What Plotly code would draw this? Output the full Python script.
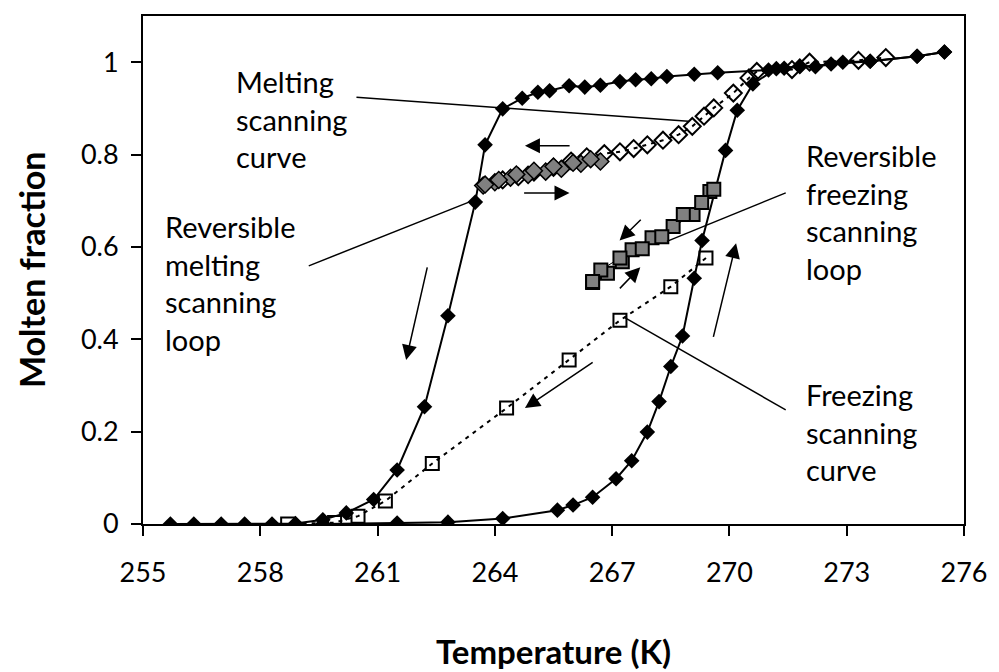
import plotly.graph_objects as go

# ---------------- data ----------------
melt_T = [255.7, 256.3, 257.0, 257.6, 258.3, 258.9, 259.6, 260.2, 260.9, 261.5, 262.2, 262.8,
          263.5, 263.75, 264.2, 264.7, 265.1, 265.4, 265.9, 266.3, 266.7, 267.2, 267.6, 268.0,
          268.4, 269.1, 269.7, 271.0, 271.4, 271.8, 272.2, 272.9, 273.6, 274.8, 275.5]
melt_F = [0, 0, 0, 0, 0, 0.001, 0.009, 0.024, 0.053, 0.117, 0.254, 0.451,
          0.697, 0.821, 0.899, 0.922, 0.935, 0.938, 0.949, 0.946, 0.950, 0.958, 0.962, 0.964,
          0.969, 0.974, 0.977, 0.983, 0.987, 0.992, 0.990, 1.0, 1.002, 1.013, 1.022]

frz_T = [275.5, 274.8, 273.6, 272.6, 271.8, 271.2, 270.6, 270.2, 269.9, 269.3, 269.1, 268.8,
         268.5, 268.2, 267.9, 267.5, 267.1, 266.5, 266.0, 265.6, 264.2, 262.8, 261.5, 259.6]
frz_F = [1.022, 1.013, 1.002, 0.996, 0.990, 0.986, 0.953, 0.896, 0.809, 0.614, 0.532, 0.407,
         0.341, 0.265, 0.199, 0.137, 0.098, 0.058, 0.041, 0.030, 0.012, 0.004, 0.002, 0.0]

msc_T = [264.2, 264.6, 265.0, 265.5, 265.95, 266.35, 266.8, 267.2, 267.55, 267.9, 268.3,
         268.7, 269.05, 269.35, 269.6, 270.1, 270.5, 270.7, 271.6, 272.05, 273.3, 274.0]
msc_F = [0.745, 0.752, 0.762, 0.772, 0.786, 0.795, 0.802, 0.806, 0.813, 0.821, 0.831,
         0.843, 0.861, 0.883, 0.901, 0.933, 0.966, 0.980, 0.984, 1.0, 1.004, 1.010]

rml_T = [263.7, 264.0, 264.4, 264.85, 265.3, 265.7, 266.2, 266.7,
         266.45, 266.0, 265.5, 265.0, 264.55, 264.1, 263.75]
rml_F = [0.733, 0.740, 0.750, 0.756, 0.763, 0.769, 0.780, 0.785,
         0.790, 0.782, 0.774, 0.765, 0.757, 0.745, 0.735]

fsc_T = [269.4, 268.5, 267.2, 265.9, 264.3, 262.4, 261.2, 260.5, 259.9, 258.7]
fsc_F = [0.576, 0.514, 0.441, 0.355, 0.251, 0.131, 0.050, 0.017, 0.003, 0.0]

rfl_T = [266.5, 266.88, 267.26, 267.51, 268.02, 268.56, 269.07, 269.5,
         269.6, 269.29, 268.82, 268.27, 267.77, 267.2, 266.71, 266.5]
rfl_F = [0.523, 0.543, 0.568, 0.594, 0.620, 0.644, 0.670, 0.720,
         0.725, 0.696, 0.670, 0.622, 0.596, 0.576, 0.550, 0.525]

x_ticks = [255, 258, 261, 264, 267, 270, 273, 276]
y_ticks = [0, 0.2, 0.4, 0.6, 0.8, 1]

# label texts and their anchor points (data coords)
labels = [
    ("Melting<br>scanning<br>curve", 257.34, 0.878),
    ("Reversible<br>melting<br>scanning<br>loop", 255.5, 0.522),
    ("Reversible<br>freezing<br>scanning<br>loop", 271.9, 0.676),
    ("Freezing<br>scanning<br>curve", 271.9, 0.199),
]
# leader lines (x0, y0, x1, y1)
leaders = [
    (260.46, 0.924, 268.95, 0.872),
    (259.24, 0.559, 263.37, 0.698),
    (271.44, 0.717, 268.40, 0.612),
    (267.30, 0.448, 271.44, 0.247),
]
# arrows (tail_x, tail_y, head_x, head_y)
arrows = [
    (265.95, 0.819, 264.77, 0.819),
    (264.71, 0.717, 265.91, 0.717),
    (262.28, 0.559, 261.73, 0.355),
    (267.77, 0.662, 267.19, 0.614),
    (267.16, 0.507, 267.72, 0.556),
    (269.58, 0.402, 270.17, 0.608),
    (266.54, 0.352, 264.77, 0.251),
]

FONT = "Lato"

fig = go.Figure()

fig.add_trace(go.Scatter(x=melt_T, y=melt_F, mode="lines+markers",
                         line=dict(color="black", width=2),
                         marker=dict(symbol="diamond", size=12, color="black")))
fig.add_trace(go.Scatter(x=frz_T, y=frz_F, mode="lines+markers",
                         line=dict(color="black", width=2),
                         marker=dict(symbol="diamond", size=12, color="black")))
fig.add_trace(go.Scatter(x=msc_T, y=msc_F, mode="lines+markers",
                         line=dict(color="black", width=2, dash="4px,5px"),
                         marker=dict(symbol="diamond-open", size=13, color="black",
                                     line=dict(width=2, color="black"))))
fig.add_trace(go.Scatter(x=rml_T, y=rml_F, mode="lines+markers",
                         line=dict(color="black", width=1),
                         marker=dict(symbol="diamond", size=13, color="#808080",
                                     line=dict(width=1.5, color="black"))))
fig.add_trace(go.Scatter(x=fsc_T, y=fsc_F, mode="lines+markers",
                         line=dict(color="black", width=2, dash="4px,5px"),
                         marker=dict(symbol="square-open", size=13, color="black",
                                     line=dict(width=2, color="black"))))
fig.add_trace(go.Scatter(x=rfl_T, y=rfl_F, mode="lines+markers",
                         line=dict(color="black", width=1),
                         marker=dict(symbol="square", size=13, color="#808080",
                                     line=dict(width=2, color="black"))))

for (x0, y0, x1, y1) in leaders:
    fig.add_shape(type="line", xref="x", yref="y", x0=x0, y0=y0, x1=x1, y1=y1,
                  line=dict(color="black", width=1.5))

W, H = 999, 672
ml, mr, mt, mb = 143, 27, 16, 148
pw, ph = W - ml - mr, H - mt - mb

annotations = []
for (txt, x, y) in labels:
    annotations.append(dict(text=txt, x=x, y=y, xref="x", yref="y", showarrow=False,
                            xanchor="left", yanchor="middle", align="left",
                            font=dict(family=FONT, size=29, color="black")))
for (tx, ty, hx, hy) in arrows:
    annotations.append(dict(x=hx, y=hy, ax=tx, ay=ty, xref="x", yref="y",
                            axref="x", ayref="y", text="", showarrow=True,
                            arrowhead=2, arrowsize=2, arrowwidth=1.5, arrowcolor="black"))
annotations.append(dict(text="<b>Temperature (K)</b>", x=0.5, y=(H - mb - 651) / ph,
                        xref="paper", yref="paper", showarrow=False,
                        font=dict(family=FONT, size=33, color="black"),
                        xanchor="center", yanchor="middle"))
annotations.append(dict(text="<b>Molten fraction</b>", x=(30 - ml) / pw, y=0.5,
                        xref="paper", yref="paper", showarrow=False, textangle=-90,
                        font=dict(family=FONT, size=34, color="black"),
                        xanchor="center", yanchor="middle"))

fig.update_layout(
    width=W, height=H,
    margin=dict(l=ml, r=mr, t=mt, b=mb),
    paper_bgcolor="white", plot_bgcolor="white",
    showlegend=False,
    font=dict(family=FONT, size=27, color="black"),
    annotations=annotations,
)
fig.update_xaxes(range=[255, 276], tickvals=x_ticks, ticktext=[str(v) for v in x_ticks],
                 showgrid=False, zeroline=False, showline=True, linecolor="black", linewidth=2,
                 mirror=True, ticks="outside", ticklen=10, tickcolor="black", tickwidth=1.5,
                 ticklabelstandoff=14, tickfont=dict(family=FONT, size=27, color="black"))
fig.update_yaxes(range=[0, 1.1], tickvals=y_ticks, ticktext=[f"{v:g}" for v in y_ticks],
                 showgrid=False, zeroline=False, showline=True, linecolor="black", linewidth=2,
                 mirror=True, ticks="outside", ticklen=10, tickcolor="black", tickwidth=1.5,
                 ticklabelstandoff=7, tickfont=dict(family=FONT, size=27, color="black"))

fig.write_html("out.html", config={"displayModeBar": False},
               post_script="document.body.style.margin='0';document.body.style.overflow='hidden';")
